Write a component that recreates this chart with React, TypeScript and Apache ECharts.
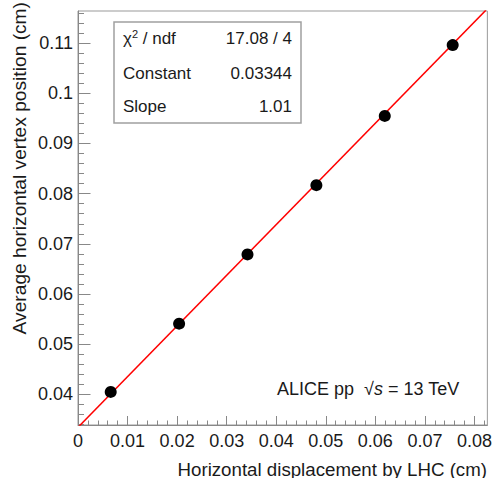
import React, { useEffect, useRef } from "react";
import * as echarts from "echarts";

const xValues = [0.0066, 0.0204, 0.0342, 0.0481, 0.0619, 0.0756];
const yValues = [0.0405, 0.0541, 0.0679, 0.0817, 0.0955, 0.1096];
const xTickValues = [0, 0.01, 0.02, 0.03, 0.04, 0.05, 0.06, 0.07, 0.08];
const yTickValues = [0.04, 0.05, 0.06, 0.07, 0.08, 0.09, 0.1, 0.11];
const fitConstant = 0.03344;
const fitSlope = 1.01;
const fitRange = [0, 0.0823];
const statNames = ["χ", "Constant", "Slope"];
const statValues = ["17.08 / 4", "0.03344", "1.01"];

const X_MIN = 0;
const X_MAX = 0.0826;
const Y_MIN = 0.0339;
const Y_MAX = 0.1164;
const FONT = "'Liberation Sans', Arial, Helvetica, sans-serif";

function minorTicks(min: number, max: number, step: number): number[] {
  const out: number[] = [];
  const start = Math.ceil(min / step - 1e-9);
  for (let k = start; k * step <= max + 1e-12; k++) {
    out.push(Math.round(k * step * 1e6) / 1e6);
  }
  return out;
}

export default function App() {
  const ref = useRef<HTMLDivElement>(null);
  useEffect(() => {
    document.body.style.margin = "0";
    if (!ref.current) return;
    const chart = echarts.init(ref.current, undefined, { renderer: "svg" });
    const axisColor = "#888";
    const fitData = fitRange.map((x) => [x, fitConstant + fitSlope * x]);
    const points = xValues.map((x, i) => [x, yValues[i]]);
    const rowY = [38, 73, 106];
    const option: any = {
      animation: false,
      backgroundColor: "#fff",
      grid: {
        left: 78,
        right: 7,
        top: 11,
        bottom: 53,
        show: true,
        borderColor: "#999",
        borderWidth: 1,
      },
      xAxis: [
        {
          type: "value",
          min: X_MIN,
          max: X_MAX,
          axisLine: { show: true, onZero: false, lineStyle: { color: axisColor, width: 1 } },
          axisTick: { show: true, inside: true, length: 9, customValues: xTickValues, lineStyle: { color: axisColor } },
          axisLabel: {
            customValues: xTickValues,
            fontSize: 18,
            fontFamily: FONT,
            color: "#1a1a1a",
            margin: 7,
            formatter: (v: number) => String(v),
          },
          splitLine: { show: false },
        },
        {
          type: "value",
          min: X_MIN,
          max: X_MAX,
          position: "bottom",
          axisLine: { show: false },
          axisTick: { show: true, inside: true, length: 4.5, customValues: minorTicks(X_MIN, X_MAX, 0.002), lineStyle: { color: axisColor } },
          axisLabel: { show: false },
          splitLine: { show: false },
        },
      ],
      yAxis: [
        {
          type: "value",
          min: Y_MIN,
          max: Y_MAX,
          axisLine: { show: true, onZero: false, lineStyle: { color: axisColor, width: 1 } },
          axisTick: { show: true, inside: true, length: 12.5, customValues: yTickValues, lineStyle: { color: axisColor } },
          axisLabel: {
            customValues: yTickValues,
            fontSize: 18,
            fontFamily: FONT,
            color: "#1a1a1a",
            margin: 5,
            formatter: (v: number) => String(v),
          },
          splitLine: { show: false },
        },
        {
          type: "value",
          min: Y_MIN,
          max: Y_MAX,
          position: "left",
          axisLine: { show: false },
          axisTick: { show: true, inside: true, length: 6, customValues: minorTicks(Y_MIN, Y_MAX, 0.002), lineStyle: { color: axisColor } },
          axisLabel: { show: false },
          splitLine: { show: false },
        },
      ],
      series: [
        {
          type: "line",
          data: fitData,
          xAxisIndex: 0,
          yAxisIndex: 0,
          showSymbol: false,
          symbol: "none",
          lineStyle: { color: "#ff0000", width: 1.5 },
          z: 2,
        },
        {
          type: "scatter",
          data: points,
          xAxisIndex: 0,
          yAxisIndex: 0,
          symbol: "circle",
          symbolSize: 12,
          itemStyle: { color: "#000", opacity: 1 },
          z: 3,
        },
      ],
      graphic: [
        {
          type: "rect",
          shape: { x: 114, y: 22, width: 187, height: 101 },
          style: { fill: "#fff", stroke: "#a0a0a0", lineWidth: 1.5 },
          z: 10,
        },
        ...statNames.map((name, i) => ({
          type: "text",
          x: 123,
          y: rowY[i],
          z: 11,
          style: {
            text: i === 0 ? "{b|χ}{s|2}{b| / ndf}" : name,
            fontSize: 17,
            fontFamily: FONT,
            fill: "#1a1a1a",
            verticalAlign: "middle",
            align: "left",
            rich: i === 0
              ? {
                  b: { fontSize: 17, fontFamily: FONT, fill: "#1a1a1a", lineHeight: 20 },
                  s: { fontSize: 11, fontFamily: FONT, fill: "#1a1a1a", verticalAlign: "top", lineHeight: 20 },
                }
              : undefined,
          },
        })),
        ...statValues.map((val, i) => ({
          type: "text",
          x: 292,
          y: rowY[i],
          z: 11,
          style: {
            text: val,
            fontSize: 17,
            fontFamily: FONT,
            fill: "#1a1a1a",
            verticalAlign: "middle",
            align: "right",
          },
        })),
        {
          type: "text",
          x: 277,
          y: 389,
          z: 11,
          style: {
            text: "{n|ALICE pp  √}{i|s}{n| = 13 TeV}",
            verticalAlign: "middle",
            align: "left",
            rich: {
              n: { fontSize: 18, fontFamily: FONT, fill: "#1a1a1a" },
              i: { fontSize: 18, fontFamily: FONT, fill: "#1a1a1a", fontStyle: "italic" },
            },
          },
        },
        {
          type: "text",
          x: 487,
          y: 469,
          z: 11,
          style: {
            text: "Horizontal displacement by LHC (cm)",
            fontSize: 18.7,
            fontFamily: FONT,
            fill: "#1a1a1a",
            align: "right",
            verticalAlign: "middle",
          },
        },
        {
          type: "text",
          x: 19,
          y: 2,
          rotation: Math.PI / 2,
          z: 11,
          style: {
            text: "Average horizontal vertex position (cm)",
            fontSize: 19.2,
            fontFamily: FONT,
            fill: "#1a1a1a",
            align: "right",
            verticalAlign: "middle",
          },
        },
      ],
    };
    chart.setOption(option);
    return () => chart.dispose();
  }, []);
  return <div ref={ref} style={{ width: 495, height: 478 }} />;
}
